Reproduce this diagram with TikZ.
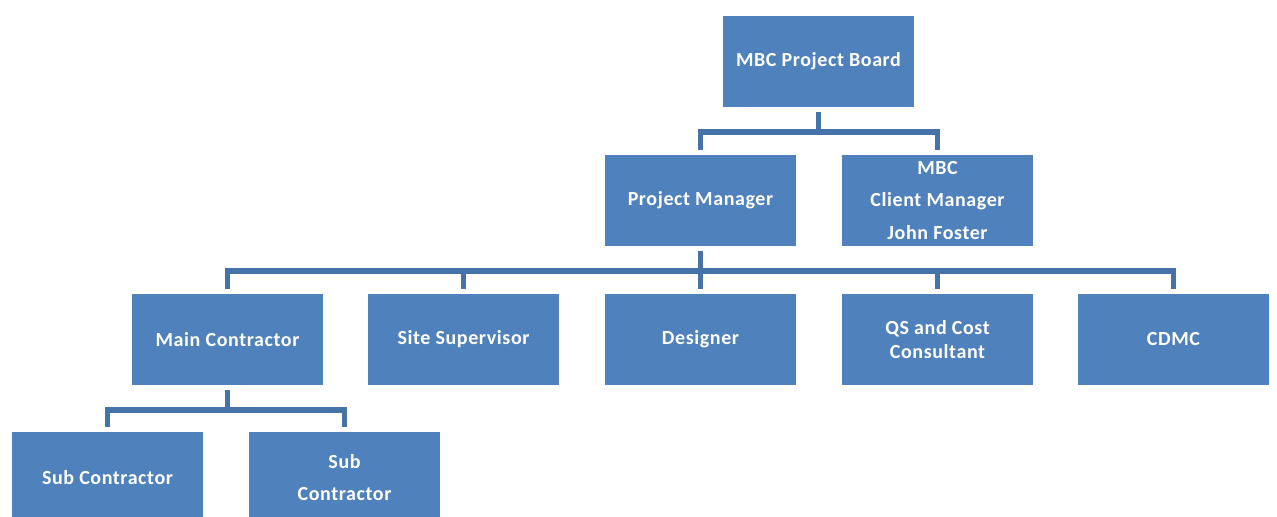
\documentclass[tikz,border=0pt]{standalone}
\usepackage{fontspec}
\setmainfont{Carlito}[LetterSpace=3]
\usetikzlibrary{calc}
\definecolor{boxblue}{HTML}{4F81BD}
\definecolor{lineblue}{HTML}{4672AA}
\begin{document}
\begin{tikzpicture}[x=0.75pt,y=-0.75pt,
  box/.style={rectangle,fill=boxblue,draw=none,minimum width=143.25pt,minimum height=68.25pt,
    inner sep=0pt,text=white,font=\fontsize{15}{17}\bfseries,align=center},
  conn/.style={draw=lineblue,line width=4.3pt,line join=miter}]
\useasboundingbox (0,0) rectangle (1277,517);
\begin{scope}
\clip (0,0) rectangle (1277,517);
\node[box] (board) at (818.5,61.5) {MBC Project Board};
\node[box] (pm) at (700.5,200.5) {Project Manager};
\node[box,font=\fontsize{15}{24.4}\bfseries] (cm) at (937.5,200.5) {MBC\\Client Manager\\John Foster};
\node[box] (mc) at (227.5,339.5) {Main Contractor};
\node[box] (ss) at (463.5,339.5) {Site Supervisor};
\node[box] (des) at (700.5,339.5) {Designer};
\node[box,font=\fontsize{15}{18}\bfseries] (qs) at (937.5,339.5) {QS and Cost\\Consultant};
\node[box] (cdmc) at (1173.5,339.5) {CDMC};
\node[box] (sc1) at (107.5,477.5) {Sub Contractor};
\node[box,font=\fontsize{15}{24}\bfseries] (sc2) at (344.5,477.5) {Sub\\Contractor};
\end{scope}
\coordinate (b1) at (0,132);
\coordinate (b2) at (0,271);
\coordinate (b3) at (0,410);
% top group
\draw[conn] ($(board.south)+(0,5)$) -- (board.south |- b1);
\draw[conn] ($(pm.north)+(0,-5)$) -- (pm.north |- b1) -- (cm.north |- b1) -- ($(cm.north)+(0,-5)$);
% middle group
\draw[conn] ($(pm.south)+(0,5)$) -- (pm.south |- b2);
\draw[conn] ($(mc.north)+(0,-5)$) -- (mc.north |- b2) -- (cdmc.north |- b2) -- ($(cdmc.north)+(0,-5)$);
\draw[conn] (ss.north |- b2) -- ($(ss.north)+(0,-5)$);
\draw[conn] (des.north |- b2) -- ($(des.north)+(0,-5)$);
\draw[conn] (qs.north |- b2) -- ($(qs.north)+(0,-5)$);
% bottom group
\draw[conn] ($(mc.south)+(0,5)$) -- (mc.south |- b3);
\draw[conn] ($(sc1.north)+(0,-5)$) -- (sc1.north |- b3) -- (sc2.north |- b3) -- ($(sc2.north)+(0,-5)$);
\end{tikzpicture}
\end{document}
